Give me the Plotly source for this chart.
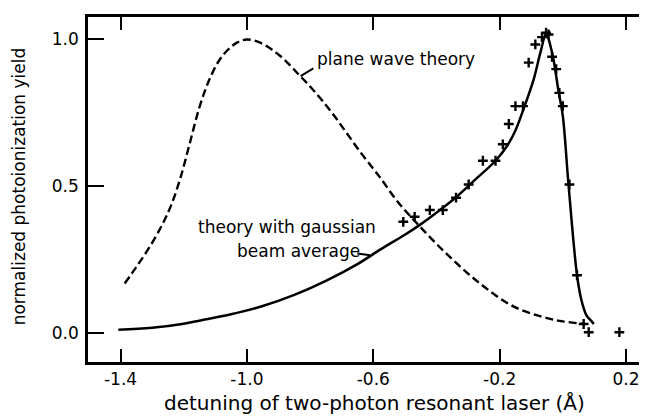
import plotly.graph_objects as go

# Plane wave theory (dashed)
pw_x = [-1.387, -1.35, -1.31, -1.27, -1.24, -1.21, -1.18, -1.15, -1.12, -1.09, -1.06, -1.03, -1.00,
        -0.96, -0.92, -0.88, -0.84, -0.80, -0.76, -0.72, -0.68, -0.64, -0.60, -0.577, -0.524,
        -0.456, -0.366, -0.261, -0.155, -0.05, 0.0, 0.071]
pw_y = [0.169, 0.225, 0.29, 0.365, 0.435, 0.53, 0.65, 0.77, 0.86, 0.925, 0.965, 0.99, 1.0,
        0.99, 0.965, 0.93, 0.885, 0.84, 0.79, 0.735, 0.675, 0.615, 0.56, 0.528, 0.449,
        0.367, 0.268, 0.168, 0.09, 0.051, 0.040, 0.031]

# Theory with gaussian beam average (solid)
gb_x = [-1.407, -1.30, -1.20, -1.147, -1.05, -0.95, -0.85, -0.75, -0.65, -0.577, -0.50,
        -0.456, -0.40, -0.340, -0.28, -0.213, -0.176, -0.15, -0.124, -0.092, -0.071,
        -0.053, -0.034, -0.013, 0.0, 0.018, 0.045, 0.059, 0.075, 0.092, 0.098]
gb_y = [0.011, 0.018, 0.032, 0.043, 0.064, 0.092, 0.13, 0.178, 0.235, 0.285, 0.335,
        0.366, 0.41, 0.461, 0.52, 0.587, 0.638, 0.69, 0.764, 0.865, 0.955,
        1.017, 0.955, 0.82, 0.74, 0.506, 0.197, 0.112, 0.06, 0.039, 0.031]

# Experimental points (crosses)
ex_x = [-0.505, -0.469, -0.421, -0.380, -0.338, -0.298, -0.253, -0.213, -0.190, -0.171,
        -0.150, -0.126, -0.108, -0.087, -0.066, -0.053, -0.045, -0.034, -0.021, -0.011,
        0.000, 0.021, 0.045, 0.066, 0.082, 0.179]
ex_y = [0.379, 0.396, 0.419, 0.419, 0.461, 0.506, 0.587, 0.587, 0.643, 0.712,
        0.773, 0.773, 0.921, 0.983, 1.008, 1.023, 1.017, 0.941, 0.899, 0.818,
        0.773, 0.506, 0.197, 0.031, 0.003, 0.003]

x_ticks = [-1.4, -1.0, -0.6, -0.2, 0.2]
x_ticklabels = ["-1.4", "-1.0", "-0.6", "-0.2", "0.2"]
y_ticks = [0.0, 0.5, 1.0]
y_ticklabels = ["0.0", "0.5", "1.0"]

FONT = "DejaVu Sans"
INK = "black"

fig = go.Figure()
fig.add_trace(go.Scatter(x=pw_x, y=pw_y, mode="lines", line=dict(color=INK, width=2.4, dash="8px,4px"),
                         line_shape="spline", showlegend=False, hoverinfo="skip"))
fig.add_trace(go.Scatter(x=gb_x, y=gb_y, mode="lines", line=dict(color=INK, width=2.5),
                         line_shape="spline", showlegend=False, hoverinfo="skip"))
fig.add_trace(go.Scatter(x=ex_x, y=ex_y, mode="markers",
                         marker=dict(symbol="cross-thin", size=7, line=dict(color=INK, width=2.4)),
                         showlegend=False, hoverinfo="skip"))
fig.add_trace(go.Scatter(x=[None], y=[None], yaxis="y2", showlegend=False))

yr = [-0.0985, 1.0765]
# page body adds an 8px offset, so margins are shifted by 8px
fig.update_layout(
    width=647, height=417,
    margin=dict(l=79.5, r=8, t=6, b=62.5),
    paper_bgcolor="white", plot_bgcolor="white",
    font=dict(family=FONT, color=INK, size=17),
    xaxis=dict(range=[-1.503, 0.2665], tickvals=x_ticks, ticktext=x_ticklabels,
               ticks="inside", ticklen=13, tickwidth=2, tickcolor=INK,
               showline=True, linewidth=2.5, linecolor=INK, mirror="ticks",
               showgrid=False, zeroline=False, tickfont=dict(size=17)),
    yaxis=dict(range=yr, tickvals=y_ticks, ticktext=y_ticklabels,
               ticks="inside", ticklen=16, tickwidth=2, tickcolor=INK,
               showline=True, linewidth=2.5, linecolor=INK, mirror=False,
               showgrid=False, zeroline=False, tickfont=dict(size=17),
               ticklabelstandoff=3),
    yaxis2=dict(range=yr, overlaying="y", side="right", tickvals=y_ticks, showticklabels=False,
                ticks="inside", ticklen=7, tickwidth=2, tickcolor=INK,
                showline=False, showgrid=False, zeroline=False),
)

# axis titles
fig.add_annotation(xref="paper", yref="paper", x=0.512, y=-0.12, xanchor="center", yanchor="middle",
                   text="detuning of two-photon resonant laser (Å)", showarrow=False,
                   font=dict(size=20, family=FONT))
fig.add_annotation(xref="paper", yref="paper", x=-0.1242, y=0.508, xanchor="center", yanchor="middle",
                   text="normalized photoionization yield", textangle=-90, showarrow=False,
                   font=dict(size=17, family=FONT))

# curve labels
fig.add_annotation(x=-0.527, y=0.935, text="plane wave theory", showarrow=False,
                   font=dict(size=17, family=FONT))
fig.add_annotation(x=-0.872, y=0.362, text="theory with gaussian", showarrow=False,
                   font=dict(size=17, family=FONT))
fig.add_annotation(x=-0.837, y=0.281, text="beam average", showarrow=False,
                   font=dict(size=17, family=FONT))

# leader lines from labels to curves
fig.add_annotation(x=-0.83, y=0.875, ax=-0.785, ay=0.905, xref="x", yref="y", axref="x", ayref="y",
                   showarrow=True, arrowhead=0, arrowwidth=2, arrowcolor=INK, text="")
fig.add_annotation(x=-0.61, y=0.265, ax=-0.655, ay=0.272, xref="x", yref="y", axref="x", ayref="y",
                   showarrow=True, arrowhead=0, arrowwidth=2, arrowcolor=INK, text="")

fig.write_html("out.html")
